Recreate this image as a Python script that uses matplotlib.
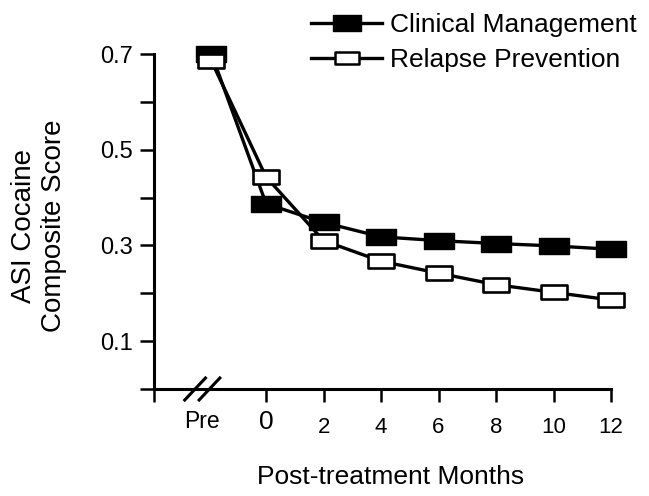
import matplotlib
matplotlib.use("Agg")
import matplotlib.pyplot as plt
from matplotlib.path import Path
from matplotlib.lines import Line2D

# ---- data ----
x_labels = ["Pre", "0", "2", "4", "6", "8", "10", "12"]
months = [0, 2, 4, 6, 8, 10, 12]
clinical_management = [0.700, 0.387, 0.348, 0.318, 0.310, 0.304, 0.299, 0.292]
relapse_prevention = [0.685, 0.443, 0.310, 0.267, 0.242, 0.218, 0.202, 0.186]
y_major = [0.1, 0.3, 0.5, 0.7]
y_minor = [0.0, 0.2, 0.4, 0.6]

# ---- layout ----
pre_pos = -1.9
pre_label_pos = -2.23
x_left = -3.9
xpos = [pre_pos] + months

plt.rcParams['font.family'] = ['Liberation Sans', 'DejaVu Sans']

W, H = 649, 496
fig = plt.figure(figsize=(W / 100, H / 100), dpi=100)
ax = fig.add_axes([154 / W, 1 - 389 / H, (611 - 154) / W, (389 - 54) / H])

rect = Path([(-1, -0.55), (1, -0.55), (1, 0.55), (-1, 0.55), (-1, -0.55)],
            [Path.MOVETO, Path.LINETO, Path.LINETO, Path.LINETO, Path.CLOSEPOLY])

ax.plot(xpos, clinical_management, color='black', lw=2.4, marker=rect, ms=21,
        mfc='black', mec='black', mew=1.0, clip_on=False, zorder=3)
ax.plot(xpos, relapse_prevention, color='black', lw=2.4, marker=rect, ms=19,
        mfc='white', mec='black', mew=1.9, clip_on=False, zorder=4)

ax.set_xlim(x_left, 12)
ax.set_ylim(0, 0.7)
for s in ['top', 'right']:
    ax.spines[s].set_visible(False)
for s in ['left', 'bottom']:
    ax.spines[s].set_linewidth(2.2)

ax.set_yticks(y_major)
ax.set_yticklabels([f"{v:.1f}" for v in y_major], fontsize=17)
ax.set_yticks(y_minor, minor=True)
ax.tick_params(axis='y', which='both', direction='out', length=10, width=1.8, pad=5)

ax.set_xticks([x_left] + months)
ax.set_xticklabels([""] + x_labels[1:])
ax.tick_params(axis='x', which='both', direction='out', length=9, width=1.8, pad=11, labelsize=16)
for lbl in ax.get_xticklabels():
    if lbl.get_text() == "0":
        lbl.set_fontsize(19)
ax.xaxis.get_major_ticks()[1].set_pad(6)
ax.text(pre_label_pos, -33 / (389 - 54), x_labels[0], ha='center', va='center', fontsize=16.5,
        transform=ax.get_xaxis_transform())

# axis break marks
for dx in [-0.24, 0.26]:
    cx = pre_label_pos + dx
    ax.plot([cx - 0.36, cx + 0.36], [-0.023, 0.023], color='black', lw=2.2,
            clip_on=False, zorder=5)

fig.text(391 / W, 1 - 477 / H, "Post-treatment Months", ha='center', va='center',
         fontsize=19)
fig.text(39 / W, 1 - 226 / H, "ASI Cocaine\nComposite Score", rotation=90,
         ha='center', va='center', fontsize=20, linespacing=1.2)

# legend
h1 = Line2D([], [], color='black', lw=2.4, marker=rect, ms=20, mfc='black', mec='black', mew=1.0)
h2 = Line2D([], [], color='black', lw=2.4, marker=rect, ms=17, mfc='white', mec='black', mew=1.8)
fig.legend([h1, h2], ["Clinical Management", "Relapse Prevention"],
           loc='upper left', bbox_to_anchor=(311 / W, 1 - 13 / H),
           frameon=False, fontsize=19, handlelength=2.7, handletextpad=0.3,
           labelspacing=0.42, borderpad=0, borderaxespad=0, markerscale=1.0)

fig.savefig("out.png", dpi=100)
